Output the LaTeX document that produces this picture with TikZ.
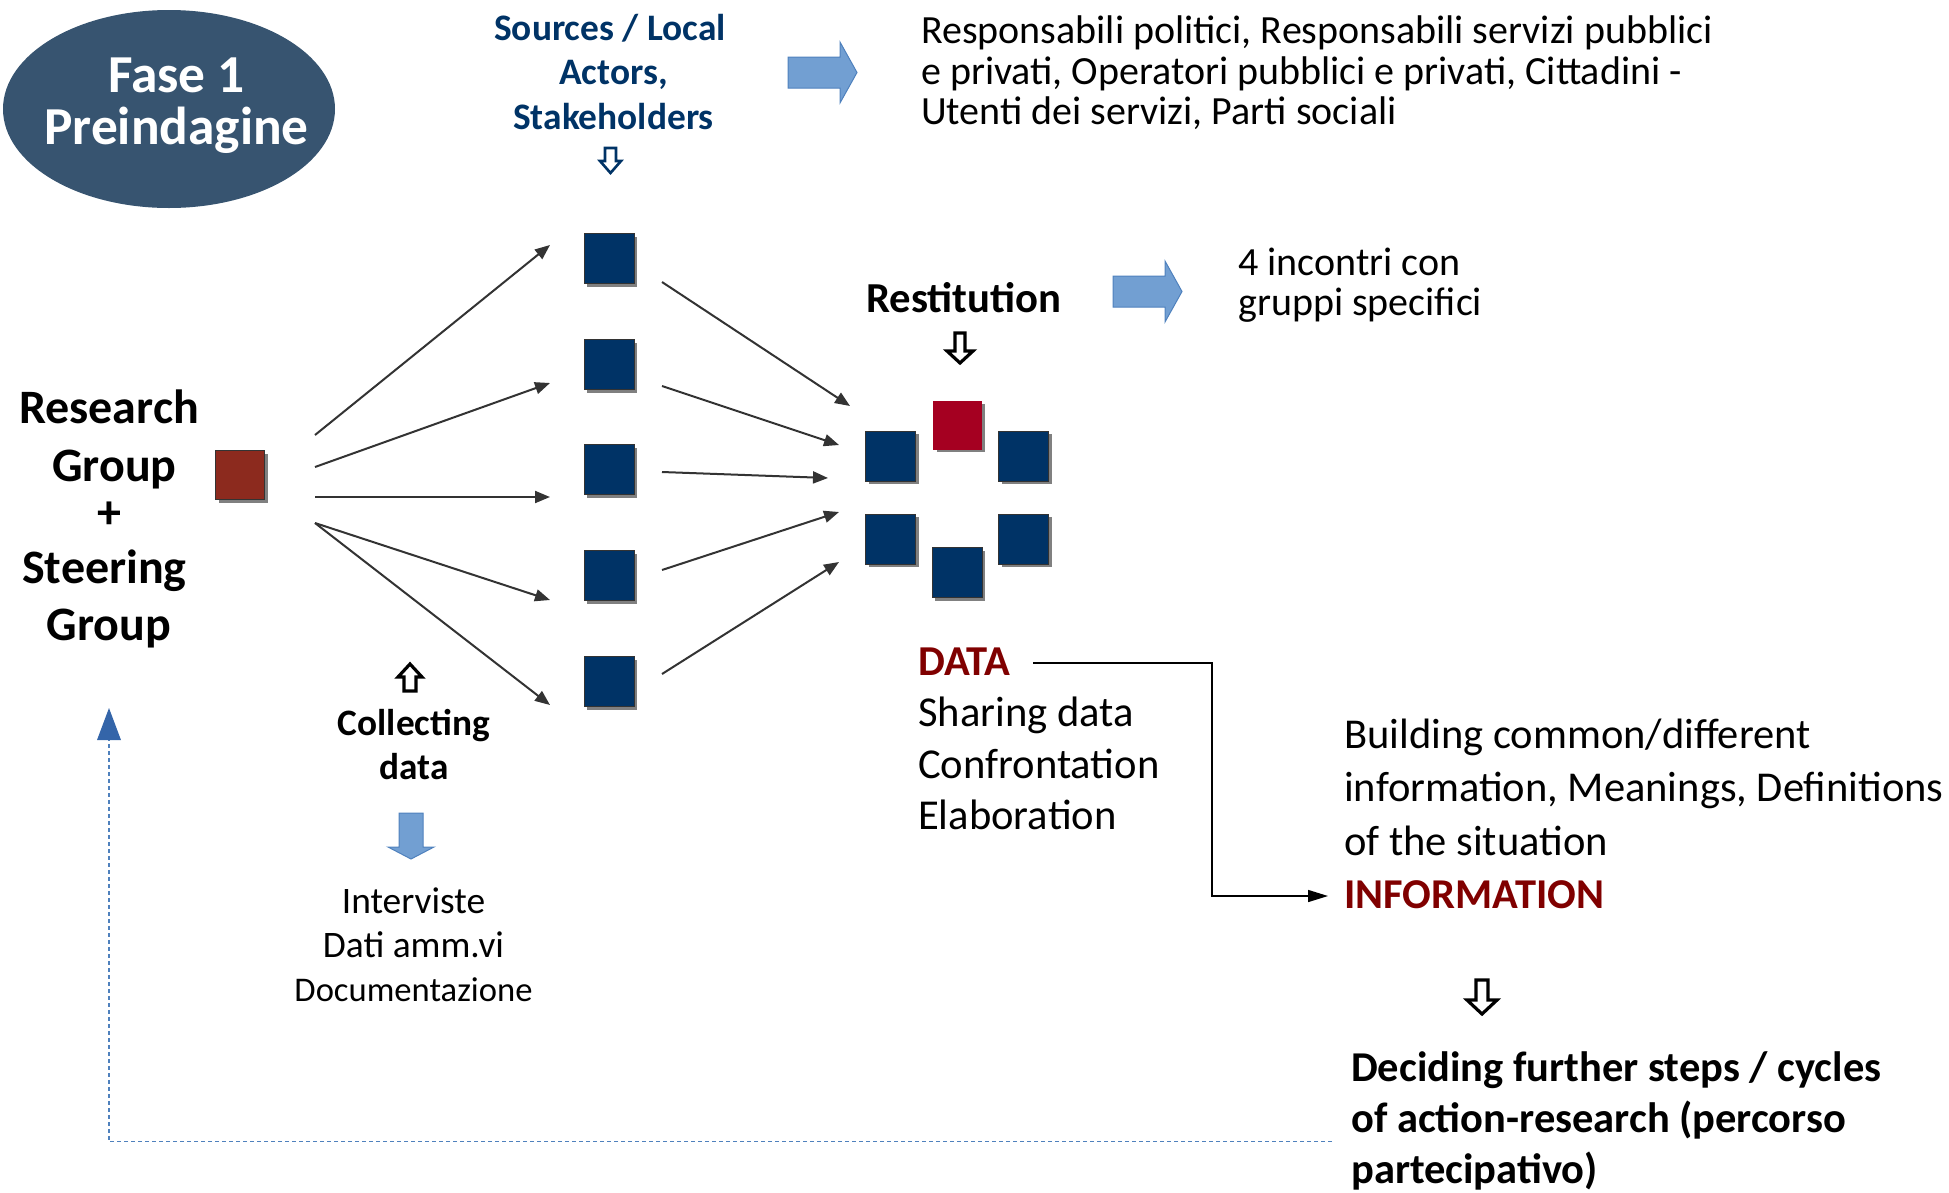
\documentclass[tikz,border=0pt]{standalone}
\usepackage{fontspec}
\setmainfont{Carlito}
\usetikzlibrary{arrows.meta,shadows,calc,shapes.geometric}
\definecolor{ellfill}{HTML}{375470}
\definecolor{navy}{HTML}{003366}
\definecolor{sqred}{HTML}{A50021}
\definecolor{brick}{HTML}{8C2A1E}
\definecolor{darkred}{HTML}{800000}
\definecolor{arrblue}{HTML}{729FD2}
\definecolor{arredge}{HTML}{4F81BD}
\definecolor{dashblue}{HTML}{3465A9}
\definecolor{dashline}{HTML}{4F81BD}
\definecolor{conn}{HTML}{333333}
\newcommand{\fs}[2]{\fontsize{#1}{#2}\selectfont}
\tikzset{
  x=1pt,y=-1pt,
  sq/.style={minimum size=#1,inner sep=0pt,outer sep=0pt,draw=conn,line width=.8pt,
    drop shadow={shadow xshift=3pt,shadow yshift=-3pt,fill=black!50,opacity=1}},
  bsq/.style={sq=50pt,fill=navy},
  conarrow/.style={draw=conn,line width=2pt,-{Triangle[length=15pt,width=12pt,fill=conn]}},
  blockarrow/.style={fill=arrblue,draw=arredge,line width=1pt},
  hollow/.style={draw=#1,fill=white,line width=3.2pt,line join=miter},
  txt/.style={anchor=base west,inner sep=0pt,align=left,text=black},
  ctxt/.style={anchor=base,inner sep=0pt,align=center,text=black},
}
\begin{document}
\begin{tikzpicture}
\useasboundingbox (0,0) rectangle (1949,1192);
% title
\node[ellipse,fill=ellfill,minimum width=332pt,minimum height=198pt,inner sep=0pt] (ell) at (169,109) {};
\node[ctxt,text=white,font=\fs{53.4}{52}\bfseries] (fase) at (176.5,144) {Fase 1\\Preindagine};
% sources
\node[ctxt,text=navy,font=\fs{37.4}{44.5}\bfseries] (src) at (613.5,129) {\hspace*{-7pt}Sources / Local\\Actors,\\Stakeholders};
\draw[blockarrow] (788,57) -- (840,57) -- (840,42) -- (857,72.5) -- (840,103) -- (840,88) -- (788,88) -- cycle;
\node[txt,font=\fs{40}{40.5}] (who) at (921,124.5) {Responsabili politici, Responsabili servizi pubblici\\e privati, Operatori pubblici e privati, Cittadini -\\Utenti dei servizi, Parti sociali};
\draw[hollow=navy,line width=2.6pt] (605,148) -- (616,148) -- (616,161) -- (621,161) -- (610.5,173) -- (600,161) -- (605,161) -- cycle;
% sources column
\node[bsq] (q1) at (609,258.5) {};
\node[bsq] (q2) at (609,364.5) {};
\node[bsq] (q3) at (609,469.5) {};
\node[bsq] (q4) at (609,575.5) {};
\node[bsq] (q5) at (609,681.5) {};
% research group
\node[ctxt,font=\fs{48}{46}\bfseries] (rg) at (109,640) {Research\\[12pt]\hspace*{11pt}Group\\[1pt]+\\[9pt]\hspace*{-9pt}Steering\\[11pt]Group};
\node[sq=49pt,fill=brick] (r0) at (240,475) {};
% outgoing
\coordinate (a1) at (315,435); \coordinate (a2) at (315,467); \coordinate (a3) at (315,497);
\coordinate (a4) at (315,523); \coordinate (a5) at (315,523);
\coordinate (b1) at (550,245); \coordinate (b2) at (550,383); \coordinate (b3) at (550,497);
\coordinate (b4) at (550,600); \coordinate (b5) at (550,705);
\foreach \i in {1,...,5} \draw[conarrow] (a\i) -- (b\i);
% incoming
\coordinate (c1) at (662,282); \coordinate (c2) at (662,386); \coordinate (c3) at (662,472);
\coordinate (c4) at (662,570); \coordinate (c5) at (662,674);
\coordinate (d1) at (850,406); \coordinate (d2) at (839,445); \coordinate (d3) at (828,478);
\coordinate (d4) at (839,512); \coordinate (d5) at (839,562);
\foreach \i in {1,...,5} \draw[conarrow] (c\i) -- (d\i);
% cluster
\node[bsq] (k1) at (890.5,456) {};
\node[bsq] (k2) at (1023.5,456) {};
\node[bsq] (k3) at (890.5,539) {};
\node[bsq] (k4) at (1023.5,539) {};
\node[bsq] (k5) at (957,572.5) {};
\node[sq=48pt,fill=sqred,draw=sqred] (k0) at (957.5,425) {};
% restitution
\node[ctxt,font=\fs{42.7}{44}\bfseries] (rest) at (964,312) {Restitution};
\draw[hollow=black] (955,333) -- (965,333) -- (965,351) -- (973,351) -- (960,363) -- (947,351) -- (955,351) -- cycle;
\draw[blockarrow] (1113,276) -- (1165,276) -- (1165,261) -- (1182,291.5) -- (1165,322) -- (1165,307) -- (1113,307) -- cycle;
\node[txt,font=\fs{40}{40}] (inc) at (1238,315) {4 incontri con\\gruppi specifici};
% collecting
\draw[hollow=black] (404,691) -- (416,691) -- (416,677) -- (422,677) -- (410,664) -- (398,677) -- (404,677) -- cycle;
\node[ctxt,font=\fs{37.3}{44}\bfseries] (col) at (414,779.5) {Collecting\\data};
\draw[blockarrow] (399,813) -- (423,813) -- (423,847) -- (434,847) -- (411,859) -- (388,847) -- (399,847) -- cycle;
\node[ctxt,font=\fs{37.4}{44}] (intv) at (413.5,1001.5) {Interviste\\Dati amm.vi\\{\fontsize{34.6}{44}\selectfont Documentazione}};
% data
\node[txt,font=\fs{42.6}{51.3}] (data) at (918,829.5) {\textcolor{darkred}{\bfseries DATA}\\Sharing data\\Confrontation\\Elaboration};
\coordinate (dstart) at (1033,663);
\coordinate (dend) at (1328,896);
\draw[line width=1.5pt,-{Triangle[length=20pt,width=12pt]}] (dstart) -- (1212,663) -- (1212,896) -- (dend);
% information
\node[txt,font=\fs{42.5}{53.5}] (info) at (1344,908.5) {Building common/different\\information, Meanings, Definitions\\of the situation\\\textcolor{darkred}{\bfseries INFORMATION}};
\draw[hollow=black] (1476,980) -- (1488,980) -- (1488,1000) -- (1497,1000) -- (1482,1014) -- (1467,1000) -- (1476,1000) -- cycle;
\node[txt,font=\fs{42.5}{51}\bfseries] (dec) at (1351,1183) {Deciding further steps / cycles\\of action-research (percorso\\partecipativo)};
% feedback
\coordinate (fb0) at (1332,1141.5);
\coordinate (fb1) at (109,740);
\draw[dashline,line width=1.1pt,dash pattern=on 4pt off 3pt] (fb0) -| (fb1);
\fill[dashblue] (fb1) ++(-12,0) -- (109,708) -- (121,740) -- cycle;
\end{tikzpicture}
\end{document}
